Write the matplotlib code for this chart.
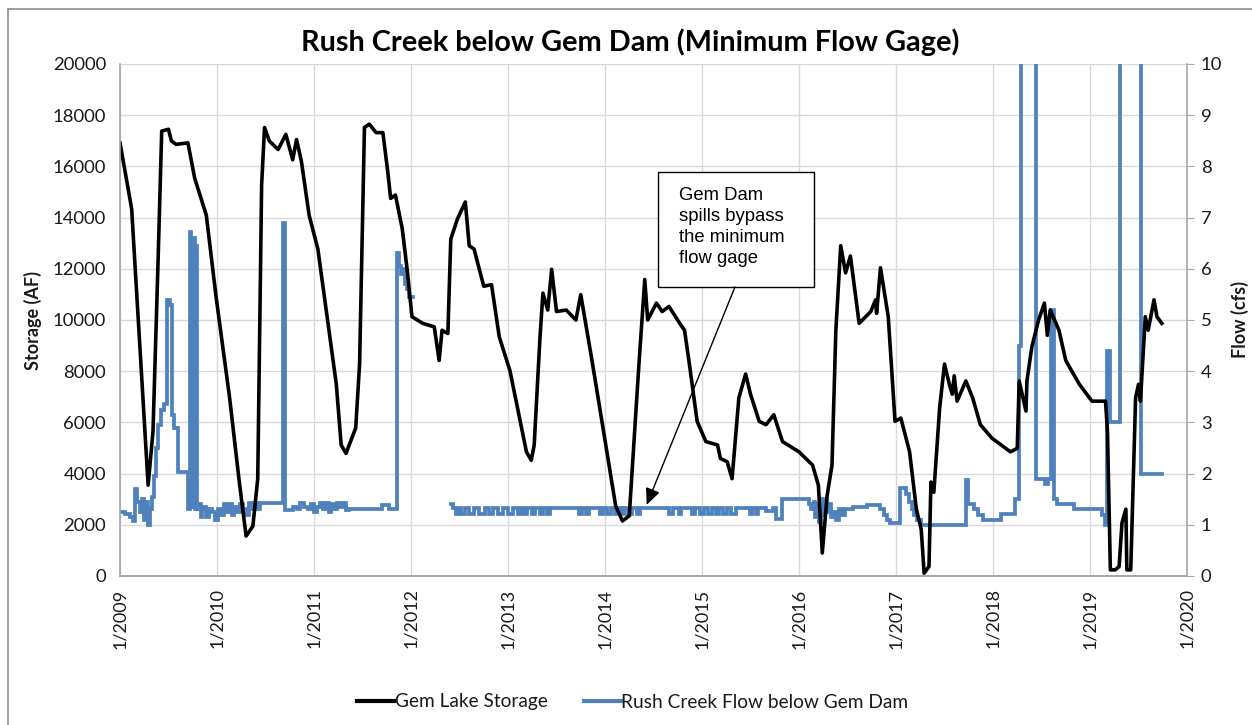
import matplotlib
matplotlib.use('Agg')
import matplotlib.pyplot as plt
import numpy as np
from matplotlib.lines import Line2D

# ---------------- data ----------------
storage_t = [2009.00, 2009.12, 2009.29, 2009.34, 2009.39, 2009.43, 2009.50, 2009.53, 2009.58, 2009.70,
             2009.77, 2009.89, 2009.99, 2010.13, 2010.23, 2010.30, 2010.37, 2010.42, 2010.46, 2010.49,
             2010.54, 2010.63, 2010.71, 2010.78, 2010.82, 2010.87, 2010.95, 2011.04, 2011.23, 2011.28,
             2011.33, 2011.43, 2011.47, 2011.52, 2011.57, 2011.64, 2011.71, 2011.76, 2011.79, 2011.84,
             2011.91, 2011.96, 2012.01, 2012.12, 2012.24, 2012.29, 2012.32, 2012.38, 2012.41, 2012.48,
             2012.56, 2012.60, 2012.65, 2012.75, 2012.83, 2012.91, 2013.02, 2013.19, 2013.24, 2013.27,
             2013.33, 2013.36, 2013.41, 2013.45, 2013.50, 2013.60, 2013.70, 2013.75, 2013.86, 2013.94,
             2014.11, 2014.18, 2014.25, 2014.35, 2014.41, 2014.44, 2014.53, 2014.59, 2014.66, 2014.77,
             2014.82, 2014.87, 2014.95, 2015.04, 2015.16, 2015.19, 2015.26, 2015.31, 2015.38, 2015.45,
             2015.50, 2015.59, 2015.66, 2015.74, 2015.83, 2016.00, 2016.14, 2016.20, 2016.24, 2016.29,
             2016.34, 2016.38, 2016.43, 2016.48, 2016.53, 2016.62, 2016.74, 2016.79, 2016.80, 2016.84,
             2016.92, 2016.99, 2017.05, 2017.14, 2017.21, 2017.26, 2017.29, 2017.34, 2017.36, 2017.39,
             2017.45, 2017.50, 2017.55, 2017.58, 2017.60, 2017.63, 2017.72, 2017.79, 2017.87, 2017.99,
             2018.13, 2018.18, 2018.25, 2018.27, 2018.34, 2018.35, 2018.40, 2018.47, 2018.53, 2018.56,
             2018.59, 2018.68, 2018.75, 2018.89, 2019.02, 2019.16, 2019.18, 2019.21, 2019.26, 2019.30,
             2019.33, 2019.37, 2019.38, 2019.42, 2019.47, 2019.50, 2019.52, 2019.57, 2019.60, 2019.66,
             2019.69, 2019.74]
storage_v = [16920, 14350, 3550, 5645, 11980, 17380, 17450, 16990, 16860, 16920,
             15540, 14090, 10920, 6960, 3670, 1560, 1950, 3800, 15270, 17520,
             16990, 16660, 17250, 16260, 17050, 16200, 14090, 12770, 7490, 5120,
             4790, 5780, 8280, 17520, 17650, 17320, 17320, 15800, 14750, 14880,
             13560, 11980, 10130, 9870, 9730, 8420, 9600, 9470, 13160, 13960,
             14610, 12900, 12770, 11320, 11380, 9340, 8020, 4850, 4520, 5120,
             9340, 11050, 10390, 11980, 10330, 10390, 10000, 10990, 8550, 6700,
             2740, 2150, 2350, 8280, 11580, 10000, 10660, 10330, 10530, 9870,
             9600, 8280, 6040, 5250, 5120, 4590, 4460, 3800, 6960, 7890,
             7100, 6040, 5910, 6300, 5250, 4850, 4330, 3540, 900, 3140,
             4330, 9600, 12900, 11840, 12500, 9870, 10330, 10790, 10260, 12040,
             10130, 6040, 6170, 4850, 2610, 1820, 110, 370, 3670, 3270,
             6570, 8280, 7490, 7100, 7820, 6830, 7620, 6960, 5910, 5380,
             4990, 4850, 4990, 7620, 6440, 7620, 8940, 10000, 10660, 9400,
             10390, 9600, 8420, 7490, 6830, 6830, 5650, 240, 240, 370,
             2080, 2610, 240, 240, 6960, 7490, 6830, 10130, 9600, 10790,
             10130, 9870]

flow_t = [2009.00, 2009.05, 2009.10, 2009.13, 2009.15, 2009.18, 2009.21, 2009.23, 2009.25, 2009.27,
          2009.29, 2009.31, 2009.33, 2009.35, 2009.37, 2009.39, 2009.42, 2009.45, 2009.48, 2009.52,
          2009.54, 2009.56, 2009.60, 2009.70, 2009.725, 2009.735, 2009.745, 2009.755, 2009.765, 2009.775,
          2009.785, 2009.795, 2009.81, 2009.83, 2009.85, 2009.87, 2009.89, 2009.92, 2009.95, 2009.98,
          2010.01, 2010.04, 2010.07, 2010.09, 2010.12, 2010.15, 2010.18, 2010.21, 2010.24, 2010.27,
          2010.30, 2010.33, 2010.36, 2010.39, 2010.42, 2010.44, 2010.68, 2010.70, 2010.76, 2010.78,
          2010.82, 2010.86, 2010.90, 2010.94, 2010.97, 2011.00, 2011.03, 2011.06, 2011.09, 2011.12,
          2011.15, 2011.18, 2011.21, 2011.24, 2011.27, 2011.30, 2011.33, 2011.36, 2011.70, 2011.77,
          2011.86, 2011.88, 2011.90, 2011.92, 2011.94, 2011.96, 2011.98, 2012.02,
          2012.41, 2012.43, 2012.46, 2012.49, 2012.52, 2012.56, 2012.60, 2012.65, 2012.70, 2012.76,
          2012.80, 2012.85, 2012.90, 2012.95, 2013.00, 2013.05, 2013.10, 2013.13, 2013.17, 2013.20,
          2013.25, 2013.28, 2013.33, 2013.36, 2013.40, 2013.43, 2013.73, 2013.76, 2013.80, 2013.84,
          2013.95, 2013.98, 2014.02, 2014.06, 2014.10, 2014.13, 2014.16, 2014.20, 2014.24, 2014.28,
          2014.33, 2014.36, 2014.66, 2014.70, 2014.76, 2014.78, 2014.90, 2014.93, 2014.98, 2015.02,
          2015.06, 2015.10, 2015.14, 2015.18, 2015.22, 2015.26, 2015.30, 2015.35, 2015.50, 2015.52,
          2015.56, 2015.58, 2015.66, 2015.73, 2015.76, 2015.82, 2016.10, 2016.12, 2016.15, 2016.17,
          2016.19, 2016.21, 2016.23, 2016.25, 2016.27, 2016.29, 2016.31, 2016.33, 2016.36, 2016.38,
          2016.41, 2016.44, 2016.47, 2016.56, 2016.70, 2016.84, 2016.88, 2016.91, 2016.94, 2017.04,
          2017.10, 2017.13, 2017.16, 2017.19, 2017.22, 2017.26, 2017.72, 2017.74, 2017.80, 2017.85,
          2017.90, 2018.08, 2018.23, 2018.27, 2018.29, 2018.44, 2018.54, 2018.57, 2018.60, 2018.63,
          2018.66, 2018.84, 2019.12, 2019.15, 2019.18, 2019.21, 2019.31, 2019.53, 2019.74]
flow_v = [1.25, 1.22, 1.15, 1.08, 1.70, 1.45, 1.25, 1.50, 1.10, 1.45,
          1.00, 1.30, 1.55, 1.95, 2.50, 2.95, 3.25, 3.35, 5.40, 5.30,
          3.15, 2.90, 2.03, 1.30, 6.72, 1.35, 6.55, 1.35, 6.60, 1.30,
          6.45, 1.30, 1.40, 1.15, 1.30, 1.35, 1.15, 1.30, 1.25, 1.10,
          1.30, 1.20, 1.40, 1.25, 1.40, 1.20, 1.35, 1.25, 1.40, 1.30,
          1.20, 1.42, 1.30, 1.42, 1.30, 1.42, 6.90, 1.28, 1.28, 1.35,
          1.30, 1.42, 1.35, 1.30, 1.40, 1.25, 1.35, 1.42, 1.30, 1.42,
          1.25, 1.40, 1.30, 1.42, 1.35, 1.42, 1.28, 1.30, 1.38, 1.30,
          6.30, 6.05, 5.90, 6.00, 5.70, 5.60, 5.45, np.nan,
          1.40, 1.32, 1.22, 1.32, 1.22, 1.32, 1.22, 1.32, 1.22, 1.32,
          1.22, 1.32, 1.22, 1.32, 1.22, 1.32, 1.22, 1.32, 1.22, 1.32,
          1.22, 1.32, 1.22, 1.32, 1.22, 1.32, 1.22, 1.32, 1.22, 1.32,
          1.22, 1.32, 1.22, 1.32, 1.22, 1.32, 1.22, 1.32, 1.22, 1.32,
          1.22, 1.32, 1.22, 1.32, 1.22, 1.32, 1.22, 1.32, 1.22, 1.32,
          1.22, 1.32, 1.22, 1.32, 1.22, 1.32, 1.22, 1.32, 1.22, 1.32,
          1.22, 1.32, 1.26, 1.32, 1.12, 1.50, 1.40, 1.30, 1.45, 1.15,
          1.40, 1.05, 1.50, 1.20, 1.45, 1.25, 1.40, 1.15, 1.25, 1.10,
          1.30, 1.20, 1.30, 1.35, 1.39, 1.30, 1.20, 1.10, 1.03, 1.72,
          1.60, 1.45, 1.30, 1.20, 1.10, 1.00, 1.88, 1.40, 1.30, 1.20,
          1.10, 1.22, 1.50, 4.50, 12.0, 1.90, 1.80, 1.90, 5.20, 1.50,
          1.40, 1.30, 1.20, 1.00, 4.40, 3.00, 12.0, 2.00, 2.00]

year_ticks = list(range(2009, 2021))
year_labels = [f"1/{y}" for y in year_ticks]
storage_ticks = list(range(0, 20001, 2000))
flow_ticks = list(range(0, 11))

title = "Rush Creek below Gem Dam (Minimum Flow Gage)"
note = "Gem Dam\nspills bypass\nthe minimum\nflow gage"

# ---------------- figure ----------------
W, H = 1252, 725
fig = plt.figure(figsize=(W / 100, H / 100), dpi=100)
fig.patch.set_facecolor('white')

tick_font = 'Lato'
txt_col = '#1a1a1a'
spine_col = '#a6a6a6'
grid_col = '#d9d9d9'
blue = '#4f81bd'

pos = [120 / W, 1 - 576 / H, (1187 - 120) / W, (576 - 64) / H]
ax2 = fig.add_axes(pos)            # flow axis (below), holds grid
ax = fig.add_axes(pos, sharex=ax2)  # storage axis (on top)
ax.patch.set_visible(False)
ax2.patch.set_facecolor('white')

# flow (secondary, right)
ax2.plot(flow_t, flow_v, drawstyle='steps-post', color=blue, lw=2.7, solid_joinstyle='miter')
ax2.set_ylim(0, 10)
ax2.set_yticks(flow_ticks)
ax2.yaxis.tick_right()
ax2.yaxis.set_label_position('right')
ax2.set_xlim(2009, 2020)
ax2.set_xticks(year_ticks)
ax2.grid(True, color=grid_col, lw=1.0)
ax2.set_axisbelow(True)

# storage (primary, left)
ax.plot(storage_t, storage_v, color='black', lw=2.6, solid_joinstyle='round')
ax.set_ylim(0, 20000)
ax.set_yticks(storage_ticks)
ax.set_xlim(2009, 2020)
ax.set_xticks(year_ticks)
ax.set_xticklabels(year_labels, rotation=90, fontfamily=tick_font, fontsize=13, color=txt_col)
ax.tick_params(axis='x', length=0, pad=9)
ax.tick_params(axis='y', length=0, pad=10, labelsize=13.3, labelcolor=txt_col)
for lab in ax.get_yticklabels():
    lab.set_fontfamily(tick_font)
ax2.tick_params(axis='y', length=5, color=spine_col, pad=5, labelsize=13.3, labelcolor=txt_col)
ax2.tick_params(axis='x', length=0, labelbottom=False)
for lab in ax2.get_yticklabels():
    lab.set_fontfamily(tick_font)

for a in (ax, ax2):
    a.spines['top'].set_visible(False)
    for s in ('left', 'right', 'bottom'):
        a.spines[s].set_color(spine_col)
        a.spines[s].set_linewidth(1.2)
ax.spines['right'].set_visible(False)
ax2.spines['left'].set_visible(False)

ax.set_ylabel('Storage (AF)', fontfamily=tick_font, fontweight='bold', fontsize=13, color=txt_col, labelpad=8)
ax2.set_ylabel('Flow (cfs)', fontfamily=tick_font, fontweight='bold', fontsize=13, color=txt_col,
               rotation=90, labelpad=6)

fig.text(630 / W, 1 - 42 / H, title, ha='center', va='center', fontfamily=tick_font,
         fontweight='bold', fontsize=20.8, color='black')

# annotation box and arrow (data coordinates on storage axis)
ax.add_patch(plt.Rectangle((2014.55, 11290), 1.6, 4490, facecolor='white', edgecolor='black',
                           lw=1.0, zorder=5))
ax.text(2014.76, 15200, note, ha='left', va='top', fontfamily='Liberation Sans', fontsize=13.3,
        color='black', linespacing=1.3, zorder=6)
ax.annotate('', xy=(2014.43, 2780), xytext=(2015.34, 11290),
            arrowprops=dict(arrowstyle='-|>,head_length=1.0,head_width=0.45', color='black',
                            lw=1.0, shrinkA=0, shrinkB=0), zorder=6)

# legend
handles = [Line2D([], [], color='black', lw=3), Line2D([], [], color=blue, lw=3)]
fig.legend(handles, ['Gem Lake Storage', 'Rush Creek Flow below Gem Dam'], loc='center',
           bbox_to_anchor=(633 / W, 1 - 702 / H), ncol=2, frameon=False,
           prop={'family': tick_font, 'size': 13.8}, handlelength=1.9, handletextpad=0.05,
           columnspacing=1.9, labelcolor=txt_col)

# chart area border (left and top edges visible)
fig.add_artist(Line2D([8 / W, 8 / W], [0, 1 - 9 / H], color='#8c8c8c', lw=1.2))
fig.add_artist(Line2D([8 / W, 1], [1 - 9 / H, 1 - 9 / H], color='#8c8c8c', lw=1.2))

fig.savefig('out.png', dpi=100)
